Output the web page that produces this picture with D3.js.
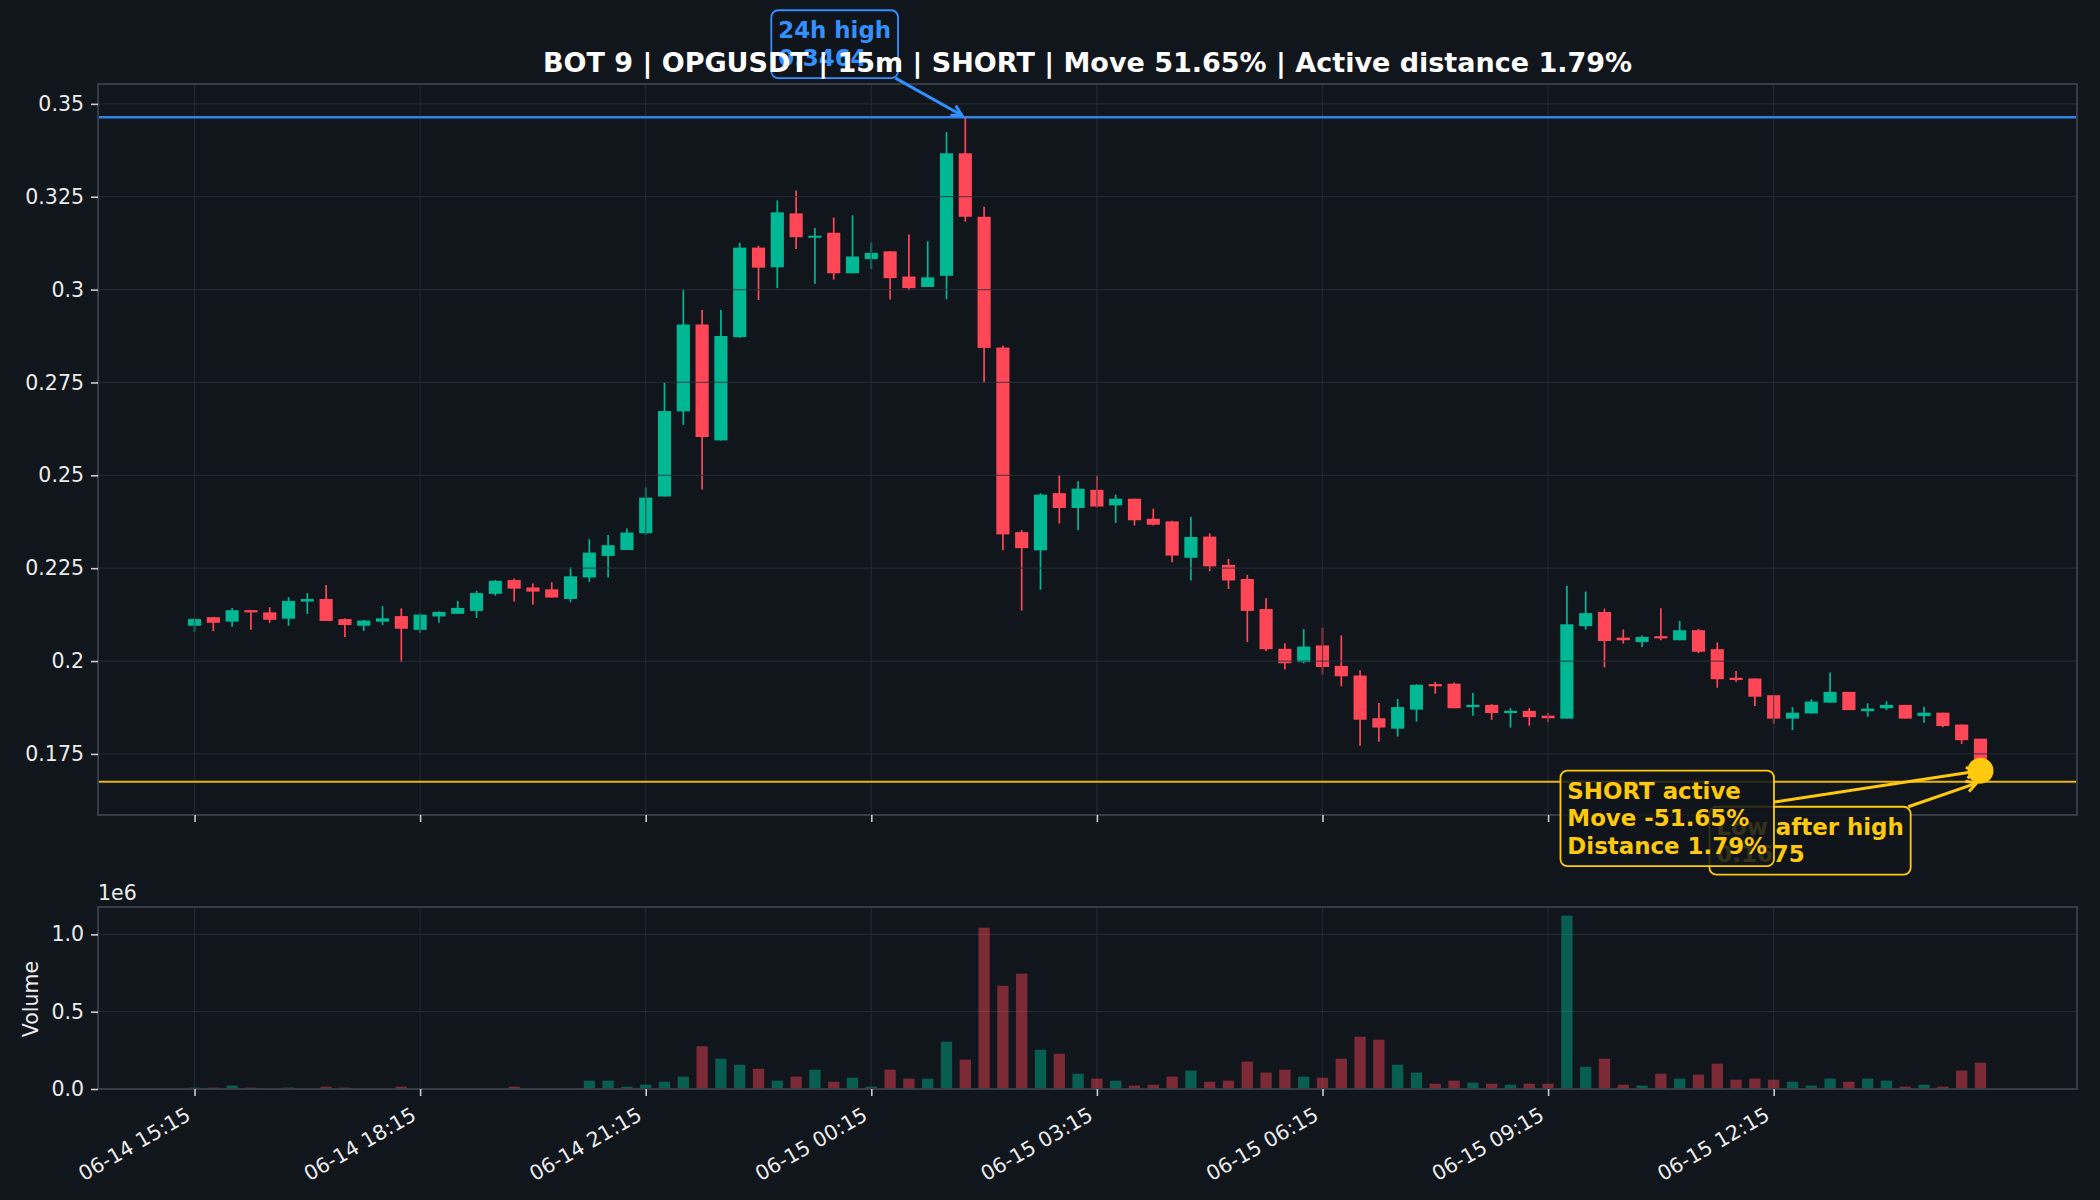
<!DOCTYPE html>
<html>
<head>
<meta charset="utf-8">
<script src="https://cdn.jsdelivr.net/npm/d3@7"></script>
<style>
  body { margin: 0; background: #11151c; }
  svg text { font-family: "DejaVu Sans", sans-serif; }
</style>
</head>
<body>
<svg id="chart" width="2100" height="1200"></svg>
<script>
// OPGUSDT 15m candles, 06-14 15:15 -> 06-15 15:00
const opens = [
  0.2095, 0.2118, 0.2106, 0.2137, 0.2131, 0.2114, 0.2160, 0.2167, 0.2113, 0.2095, 0.2106, 0.2121,
  0.2084, 0.2120, 0.2127, 0.2135, 0.2181, 0.2218, 0.2198, 0.2193, 0.2167, 0.2225, 0.2283, 0.2299,
  0.2344, 0.2443, 0.2672, 0.2906, 0.2594, 0.2872, 0.3113, 0.3060, 0.3205, 0.3140, 0.3153, 0.3044,
  0.3082, 0.3103, 0.3035, 0.3007, 0.3037, 0.3367, 0.3196, 0.2844, 0.2347, 0.2298, 0.2452, 0.2412,
  0.2461, 0.2419, 0.2437, 0.2383, 0.2376, 0.2278, 0.2335, 0.2259, 0.2221, 0.2140, 0.2033, 0.1997,
  0.2042, 0.1987, 0.1961, 0.1846, 0.1818, 0.1869, 0.1938, 0.1939, 0.1876, 0.1882, 0.1860, 0.1866,
  0.1853, 0.1845, 0.2094, 0.2132, 0.2063, 0.2051, 0.2067, 0.2056, 0.2083, 0.2032, 0.1955, 0.1953,
  0.1908, 0.1845, 0.1859, 0.1888, 0.1917, 0.1865, 0.1873, 0.1882, 0.1852, 0.1861, 0.1829, 0.1791
];
const highs = [
  0.2115, 0.2118, 0.2143, 0.2137, 0.2145, 0.2172, 0.2183, 0.2205, 0.2115, 0.2111, 0.2148, 0.2142,
  0.2128, 0.2134, 0.2162, 0.2189, 0.2218, 0.2222, 0.2209, 0.2212, 0.2252, 0.2328, 0.2339, 0.2357,
  0.2467, 0.2749, 0.3000, 0.2945, 0.2945, 0.3126, 0.3118, 0.3240, 0.3267, 0.3166, 0.3194, 0.3200,
  0.3127, 0.3103, 0.3148, 0.3130, 0.3424, 0.3464, 0.3223, 0.2849, 0.2353, 0.2452, 0.2501, 0.2484,
  0.2500, 0.2448, 0.2437, 0.2410, 0.2378, 0.2388, 0.2344, 0.2275, 0.2232, 0.2169, 0.2048, 0.2086,
  0.2090, 0.2069, 0.1975, 0.1887, 0.1898, 0.1938, 0.1944, 0.1942, 0.1914, 0.1884, 0.1873, 0.1873,
  0.1860, 0.2203, 0.2187, 0.2141, 0.2085, 0.2069, 0.2142, 0.2108, 0.2086, 0.2050, 0.1973, 0.1953,
  0.1908, 0.1876, 0.1897, 0.1969, 0.1917, 0.1886, 0.1892, 0.1882, 0.1877, 0.1861, 0.1829, 0.1791
];
const lows = [
  0.2079, 0.2081, 0.2092, 0.2084, 0.2103, 0.2095, 0.2127, 0.2108, 0.2065, 0.2081, 0.2097, 0.1997,
  0.2076, 0.2103, 0.2127, 0.2116, 0.2176, 0.2160, 0.2152, 0.2171, 0.2158, 0.2213, 0.2225, 0.2299,
  0.2340, 0.2443, 0.2636, 0.2462, 0.2594, 0.2870, 0.2972, 0.3004, 0.3109, 0.3016, 0.3027, 0.3044,
  0.3055, 0.2973, 0.2998, 0.3007, 0.2974, 0.3183, 0.2749, 0.2298, 0.2136, 0.2192, 0.2370, 0.2352,
  0.2414, 0.2372, 0.2365, 0.2365, 0.2266, 0.2217, 0.2242, 0.2194, 0.2051, 0.2027, 0.1977, 0.1994,
  0.1964, 0.1932, 0.1772, 0.1783, 0.1797, 0.1837, 0.1912, 0.1873, 0.1853, 0.1842, 0.1821, 0.1826,
  0.1835, 0.1845, 0.2085, 0.1983, 0.2047, 0.2038, 0.2056, 0.2056, 0.2021, 0.1928, 0.1944, 0.1879,
  0.1831, 0.1814, 0.1859, 0.1888, 0.1868, 0.1850, 0.1868, 0.1845, 0.1834, 0.1822, 0.1777, 0.1675
];
const closes = [
  0.2113, 0.2103, 0.2137, 0.2131, 0.2111, 0.2162, 0.2167, 0.2108, 0.2097, 0.2109, 0.2115, 0.2087,
  0.2125, 0.2132, 0.2143, 0.2183, 0.2216, 0.2195, 0.2187, 0.2171, 0.2228, 0.2292, 0.2312, 0.2346,
  0.2440, 0.2673, 0.2906, 0.2603, 0.2875, 0.3113, 0.3059, 0.3208, 0.3141, 0.3145, 0.3044, 0.3089,
  0.3099, 0.3031, 0.3004, 0.3033, 0.3367, 0.3196, 0.2843, 0.2341, 0.2304, 0.2448, 0.2412, 0.2464,
  0.2416, 0.2437, 0.2379, 0.2367, 0.2284, 0.2334, 0.2255, 0.2217, 0.2135, 0.2032, 0.1994, 0.2039,
  0.1984, 0.1959, 0.1842, 0.1821, 0.1876, 0.1936, 0.1932, 0.1873, 0.1882, 0.1860, 0.1866, 0.1849,
  0.1846, 0.2099, 0.2129, 0.2054, 0.2056, 0.2065, 0.2061, 0.2083, 0.2025, 0.1951, 0.1949, 0.1904,
  0.1845, 0.1861, 0.1891, 0.1917, 0.1868, 0.1872, 0.1882, 0.1845, 0.1861, 0.1825, 0.1787, 0.1705
];
// volume in millions (axis offset 1e6)
const volumes = [
  0.009, 0.009, 0.022, 0.009, 0.000, 0.009, 0.000, 0.015, 0.009, 0.000, 0.000, 0.015,
  0.000, 0.000, 0.000, 0.000, 0.000, 0.015, 0.000, 0.000, 0.000, 0.054, 0.054, 0.015,
  0.028, 0.047, 0.080, 0.276, 0.196, 0.157, 0.131, 0.054, 0.080, 0.125, 0.047, 0.073,
  0.015, 0.125, 0.067, 0.067, 0.306, 0.190, 1.043, 0.668, 0.746, 0.254, 0.228, 0.099,
  0.067, 0.054, 0.022, 0.028, 0.080, 0.119, 0.047, 0.054, 0.177, 0.106, 0.125, 0.080,
  0.073, 0.196, 0.338, 0.319, 0.157, 0.106, 0.034, 0.054, 0.041, 0.034, 0.028, 0.034,
  0.034, 1.121, 0.144, 0.196, 0.028, 0.022, 0.099, 0.067, 0.093, 0.164, 0.060, 0.067,
  0.060, 0.047, 0.022, 0.067, 0.047, 0.067, 0.054, 0.015, 0.028, 0.015, 0.119, 0.170
];

const timeTickIdx = [0, 12, 24, 36, 48, 60, 72, 84];
const timeTickLabels = ["06-14 15:15", "06-14 18:15", "06-14 21:15", "06-15 00:15",
                        "06-15 03:15", "06-15 06:15", "06-15 09:15", "06-15 12:15"];
const priceTicks = [0.175, 0.2, 0.225, 0.25, 0.275, 0.3, 0.325, 0.35];
const volTicks = [0, 0.5, 1.0];

const high24h = 0.3464;
const lowAfterHigh = 0.1675;
const lastPrice = 0.1705;
const titleText = "BOT 9 | OPGUSDT | 15m | SHORT | Move 51.65% | Active distance 1.79%";

// colours
const BG = '#11151c', UP = '#00b894', DOWN = '#ff4757';
const GRID = '#2a2f3a', SPINE = '#3b404b', TICK = '#c9ccd1', LABEL = '#ececec';
const BLUE = '#3390ff', GOLD = '#ffc90e';

// layout
const L = 98, R = 2077;
const PT = 84, PB = 815;     // price panel
const VT = 907, VB = 1089;   // volume panel
const TICK_FS = 20.5;

const n = closes.length;
const idx = d3.range(n);
const xpad = 0.05 * (n - 1 + 0.7);
const x = d3.scaleLinear().domain([-0.35 - xpad, n - 1 + 0.35 + xpad]).range([L, R]);
const step = x(1) - x(0);

const lo = Math.min(d3.min(lows), lowAfterHigh);
const hi = Math.max(d3.max(highs), high24h);
const rng = hi - lo;
const y = d3.scaleLinear().domain([lo - 0.05 * rng, hi + 0.05 * rng]).range([PB, PT]);
const yv = d3.scaleLinear().domain([0, d3.max(volumes) * 1.05]).range([VB, VT]);

const svg = d3.select('#chart');
svg.append('rect').attr('width', 2100).attr('height', 1200).attr('fill', BG);

const defs = svg.append('defs');
defs.append('clipPath').attr('id', 'clipP').append('rect')
  .attr('x', L).attr('y', PT).attr('width', R - L).attr('height', PB - PT);

// ---- volume panel ----
const gv = svg.append('g');
gv.append('g').selectAll('line.gy').data(volTicks).join('line')
  .attr('x1', L).attr('x2', R).attr('y1', d => yv(d)).attr('y2', d => yv(d))
  .attr('stroke', GRID).attr('stroke-width', 1.2).attr('opacity', 0.7);
gv.append('g').selectAll('line.gx').data(timeTickIdx).join('line')
  .attr('x1', d => x(d)).attr('x2', d => x(d)).attr('y1', VT).attr('y2', VB)
  .attr('stroke', GRID).attr('stroke-width', 1.2).attr('opacity', 0.7);

gv.append('g').selectAll('rect').data(idx).join('rect')
  .attr('x', i => x(i) - step * 0.3)
  .attr('width', step * 0.6)
  .attr('y', i => yv(volumes[i]))
  .attr('height', i => yv(0) - yv(volumes[i]))
  .attr('fill', i => closes[i] >= opens[i] ? UP : DOWN)
  .attr('opacity', 0.45);

// ---- price panel ----
const gp = svg.append('g').attr('clip-path', 'url(#clipP)');

const candles = gp.append('g').selectAll('g').data(idx).join('g');
candles.append('line')
  .attr('x1', i => x(i)).attr('x2', i => x(i))
  .attr('y1', i => y(highs[i])).attr('y2', i => y(lows[i]))
  .attr('stroke', i => closes[i] >= opens[i] ? UP : DOWN)
  .attr('stroke-width', 1.7);
candles.append('rect')
  .attr('x', i => x(i) - step * 0.35)
  .attr('width', step * 0.7)
  .attr('y', i => y(Math.max(opens[i], closes[i])))
  .attr('height', i => Math.max(2, Math.abs(y(opens[i]) - y(closes[i]))))
  .attr('fill', i => closes[i] >= opens[i] ? UP : DOWN);

// grid sits over the candles, faintly
gp.append('g').selectAll('line').data(priceTicks).join('line')
  .attr('x1', L).attr('x2', R).attr('y1', d => y(d)).attr('y2', d => y(d))
  .attr('stroke', GRID).attr('stroke-width', 1.2).attr('opacity', 0.7);
gp.append('g').selectAll('line').data(timeTickIdx).join('line')
  .attr('x1', d => x(d)).attr('x2', d => x(d)).attr('y1', PT).attr('y2', PB)
  .attr('stroke', GRID).attr('stroke-width', 1.2).attr('opacity', 0.7);

// level lines
gp.append('line').attr('x1', L).attr('x2', R)
  .attr('y1', y(high24h)).attr('y2', y(high24h))
  .attr('stroke', BLUE).attr('stroke-width', 2.4).attr('opacity', 0.9);
gp.append('line').attr('x1', L).attr('x2', R)
  .attr('y1', y(lowAfterHigh)).attr('y2', y(lowAfterHigh))
  .attr('stroke', GOLD).attr('stroke-width', 2.2).attr('opacity', 0.9);

// spines
function spines(top, bottom) {
  svg.append('rect').attr('x', L).attr('y', top).attr('width', R - L).attr('height', bottom - top)
    .attr('fill', 'none').attr('stroke', SPINE).attr('stroke-width', 1.8);
}
spines(PT, PB);
spines(VT, VB);

// ---- axes ----
function styleAxis(g) {
  g.select('.domain').remove();
  g.selectAll('.tick line').attr('stroke', TICK).attr('stroke-width', 1.6);
  g.selectAll('.tick text').attr('fill', LABEL).attr('font-size', TICK_FS)
    .attr('font-family', '"DejaVu Sans", sans-serif');
}

svg.append('g').attr('transform', `translate(${L},0)`)
  .call(d3.axisLeft(y).tickValues(priceTicks).tickSize(7).tickPadding(7)
    .tickFormat(d => String(+d.toFixed(3))))
  .call(styleAxis);

svg.append('g').attr('transform', `translate(0,${PB})`)
  .call(d3.axisBottom(x).tickValues(timeTickIdx).tickSize(7).tickFormat(''))
  .call(styleAxis);

svg.append('g').attr('transform', `translate(${L},0)`)
  .call(d3.axisLeft(yv).tickValues(volTicks).tickSize(7).tickPadding(7)
    .tickFormat(d3.format('.1f')))
  .call(styleAxis);

const xAxisV = svg.append('g').attr('transform', `translate(0,${VB})`)
  .call(d3.axisBottom(x).tickValues(timeTickIdx).tickSize(7)
    .tickFormat((d, i) => timeTickLabels[i]))
  .call(styleAxis);
xAxisV.selectAll('.tick text')
  .attr('x', 0).attr('y', 0).attr('dy', null)
  .attr('text-anchor', 'end')
  .attr('transform', 'translate(-3,30) rotate(-30)');

svg.append('text').attr('x', L).attr('y', 900)
  .attr('font-size', TICK_FS).attr('fill', LABEL).text('1e6');

svg.append('text')
  .attr('transform', 'translate(38,999) rotate(-90)')
  .attr('text-anchor', 'middle').attr('font-size', TICK_FS).attr('fill', LABEL)
  .text('Volume');

// ---- annotations ----
const ann = svg.append('g');

function note(lines, color, bx, by, tx, ty) {
  const fs = 22.9, pad = 6.9, lh = fs * 1.2;
  const g = ann.append('g');
  const t = g.append('text').attr('font-size', fs).attr('font-weight', 'bold').attr('fill', color);
  lines.forEach((s, i) => t.append('tspan')
    .attr('x', bx + pad).attr('y', by + pad + fs * 0.93 + i * lh).text(s));
  const w = t.node().getBBox().width + 2 * pad;
  const h = 2 * pad + (lines.length - 1) * lh + fs * 1.164;

  // arrow from box centre towards target, clipped at the box edge
  const cx = bx + w / 2, cy = by + h / 2;
  const dx = tx - cx, dy = ty - cy;
  const len = Math.hypot(dx, dy);
  const ux = dx / len, uy = dy / len;
  const tEdge = Math.min(Math.abs(w / 2 / dx) || Infinity, Math.abs(h / 2 / dy) || Infinity);
  const sx = cx + dx * tEdge, sy = cy + dy * tEdge;
  const ex = tx - ux * 4, ey = ty - uy * 4;
  const hl = 10, hw = 5.5;
  g.insert('path', 'text')
    .attr('d', `M${sx},${sy}L${ex},${ey}`)
    .attr('stroke', color).attr('stroke-width', 3).attr('fill', 'none');
  g.insert('path', 'text')
    .attr('d', `M${ex - ux * hl - uy * hw},${ey - uy * hl + ux * hw}L${ex},${ey}L${ex - ux * hl + uy * hw},${ey - uy * hl - ux * hw}`)
    .attr('stroke', color).attr('stroke-width', 3).attr('fill', 'none')
    .attr('stroke-linejoin', 'miter');
  g.insert('rect', 'text')
    .attr('x', bx).attr('y', by).attr('width', w).attr('height', h)
    .attr('rx', pad).attr('ry', pad)
    .attr('fill', BG).attr('fill-opacity', 0.85)
    .attr('stroke', color).attr('stroke-width', 1.8);
}

const hiX = x(41), hiY = y(high24h);
note(['24h high', high24h.toFixed(4)], BLUE, hiX - 194, hiY - 107, hiX, hiY);

const dotX = x(n - 1), dotY = y(lastPrice);
const lowY = y(lowAfterHigh);
note(['Low after high', lowAfterHigh.toFixed(4)], GOLD, dotX - 271, lowY + 25, dotX, lowY);
note(['SHORT active', 'Move -51.65%', 'Distance 1.79%'], GOLD, dotX - 420, dotY, dotX, dotY);

svg.append('circle').attr('cx', dotX).attr('cy', dotY).attr('r', 13).attr('fill', GOLD);

// title on top
svg.append('text').attr('x', (L + R) / 2).attr('y', 72)
  .attr('text-anchor', 'middle').attr('font-size', 27).attr('font-weight', 'bold')
  .attr('fill', '#ffffff').text(titleText);
</script>
</body>
</html>
